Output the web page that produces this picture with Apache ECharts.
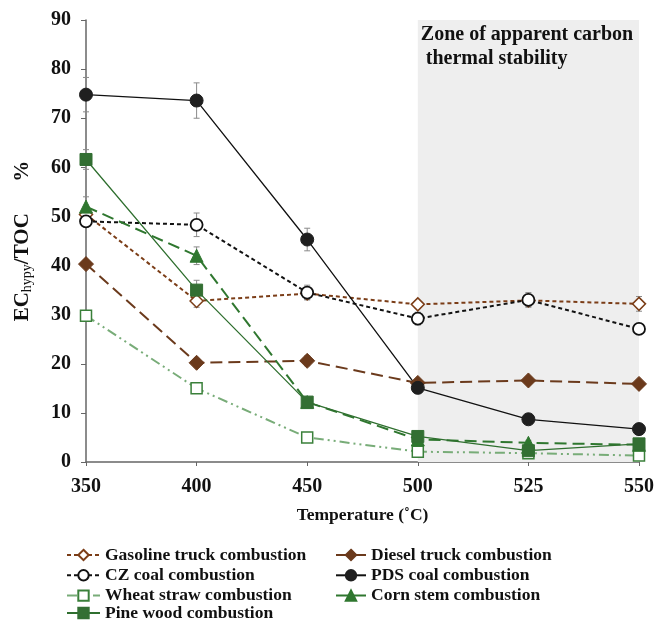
<!DOCTYPE html>
<html>
<head>
<meta charset="utf-8">
<script src="https://cdn.jsdelivr.net/npm/echarts@6/dist/echarts.min.js"></script>
<style>
  html, body { margin: 0; padding: 0; background: #fff; }
  #main { width: 657px; height: 622px; }
</style>
</head>
<body>
<div id="main"></div>
<script>
// temperatures (°C), spaced evenly like the original
var temps = ['350', '400', '450', '500', '525', '550'];

var gasoline = [50.4, 32.8, 34.3, 32.1, 32.9, 32.2];
var diesel   = [40.3, 20.2, 20.6, 16.1, 16.6, 15.9];
var czCoal   = [49.0, 48.3, 34.5, 29.2, 33.0, 27.1];
var pdsCoal  = [74.8, 73.6, 45.3, 15.1, 8.7, 6.7];
var wheat    = [29.8, 15.0, 5.0, 2.1, 1.8, 1.3];
var corn     = [52.0, 42.0, 12.2, 4.6, 3.9, 3.5];
var pine     = [61.6, 35.0, 12.2, 5.2, 2.3, 3.7];

// error bar half-widths
var gasolineErr = [1.0, 1.3, 1.2, 0.8, 1.2, 1.5];
var dieselErr   = [0.6, 0.8, 1.0, 0.5, 0.5, 0.5];
var czErr       = [1.0, 2.4, 1.5, 1.3, 1.5, 1.0];
var pdsErr      = [3.5, 3.6, 2.3, 0.5, 0.5, 0.4];
var wheatErr    = [0.6, 0.8, 0.5, 0.3, 0.3, 0.3];
var cornErr     = [2.0, 1.8, 0.8, 0.5, 0.5, 0.4];
var pineErr     = [2.0, 2.0, 0.8, 0.5, 0.4, 0.4];

var yTicks = [0, 10, 20, 30, 40, 50, 60, 70, 80, 90];

var FONT = '"Liberation Serif", "Times New Roman", serif';

var myChart = echarts.init(document.getElementById('main'));

// error bars drawn through the axes
function errSeries(vals, errs) {
    var data = [];
    vals.forEach(function (v, i) {
        if (errs[i] > 0) data.push([i, v - errs[i], v + errs[i]]);
    });
    return {
        type: 'custom',
        silent: true,
        z: 1,
        renderItem: function (params, api) {
            var lo = api.coord([api.value(0), api.value(1)]);
            var hi = api.coord([api.value(0), api.value(2)]);
            var w = 3;
            var st = { stroke: '#8a8a8a', lineWidth: 1 };
            return {
                type: 'group',
                children: [
                    { type: 'line', shape: { x1: lo[0], y1: lo[1], x2: hi[0], y2: hi[1] }, style: st },
                    { type: 'line', shape: { x1: lo[0] - w, y1: lo[1], x2: lo[0] + w, y2: lo[1] }, style: st },
                    { type: 'line', shape: { x1: hi[0] - w, y1: hi[1], x2: hi[0] + w, y2: hi[1] }, style: st }
                ]
            };
        },
        data: data
    };
}

function lineSeries(name, vals, opt) {
    return {
        name: name,
        type: 'line',
        z: 3,
        data: vals,
        symbol: opt.symbol,
        symbolSize: opt.size,
        showAllSymbol: true,
        lineStyle: { color: opt.line, width: opt.width, type: opt.dash },
        itemStyle: { color: opt.fill, borderColor: opt.border, borderWidth: opt.bw },
        emphasis: { disabled: true }
    };
}

var legendText = { fontFamily: FONT, fontWeight: 'bold', fontSize: 17.5, color: '#111', lineHeight: 17 };

function legendCol(left, top, width, names) {
    return {
        orient: 'vertical',
        left: left, top: top, padding: 0,
        itemWidth: width, itemHeight: 13, itemGap: 2.3,
        textStyle: legendText,
        data: names
    };
}

var option = {
    animation: false,
    backgroundColor: '#fff',
    grid: { left: 86, right: 17, top: 20, bottom: 160 },
    legend: [
        legendCol(66, 546, 33, ['Gasoline truck combustion', 'CZ coal combustion', 'Wheat straw combustion']),
        legendCol(66, 604, 33, ['Pine wood combustion']),
        legendCol(335, 546, 30, ['Diesel truck combustion', 'PDS coal combustion', 'Corn stem combustion'])
    ],
    xAxis: {
        type: 'category',
        data: temps,
        boundaryGap: false,
        name: 'Temperature (˚C)',
        nameLocation: 'middle',
        nameGap: 44,
        nameTextStyle: { fontFamily: FONT, fontWeight: 'bold', fontSize: 17.5, color: '#111' },
        axisLine: { lineStyle: { color: '#666', width: 1.5 } },
        axisTick: { show: true, length: 4, lineStyle: { color: '#666' } },
        axisLabel: { fontFamily: FONT, fontWeight: 'bold', fontSize: 20, color: '#111', margin: 15 },
        splitLine: { show: false }
    },
    yAxis: {
        type: 'value',
        min: yTicks[0],
        max: yTicks[yTicks.length - 1],
        interval: 10,
        name: '{a|EC}{b|hypy}{a|/TOC      %}',
        nameLocation: 'middle',
        nameRotate: 90,
        nameGap: 52,
        nameTextStyle: {
            rich: {
                a: { fontFamily: FONT, fontWeight: 'bold', fontSize: 21, color: '#111' },
                b: { fontFamily: FONT, fontSize: 14, color: '#111', verticalAlign: 'bottom', padding: [9, 0, 0, 0] }
            }
        },
        axisLine: { show: true, lineStyle: { color: '#666', width: 1.5 } },
        axisTick: { show: true, length: 5, lineStyle: { color: '#666' } },
        axisLabel: { fontFamily: FONT, fontWeight: 'bold', fontSize: 20, color: '#111', margin: 15 },
        splitLine: { show: false }
    },
    series: [
        {
            type: 'line',
            data: [],
            silent: true,
            z: 0,
            markArea: {
                silent: true,
                itemStyle: { color: '#eeeeee' },
                label: {
                    show: true,
                    position: 'insideTopLeft',
                    distance: 3,
                    formatter: 'Zone of apparent carbon\n thermal stability',
                    fontFamily: FONT, fontWeight: 'bold', fontSize: 20, color: '#111',
                    lineHeight: 24
                },
                data: [[{ xAxis: '500', yAxis: 90 }, { xAxis: '550', yAxis: 0 }]]
            }
        },
        errSeries(gasoline, gasolineErr),
        errSeries(diesel, dieselErr),
        errSeries(czCoal, czErr),
        errSeries(pdsCoal, pdsErr),
        errSeries(wheat, wheatErr),
        errSeries(corn, cornErr),
        errSeries(pine, pineErr),
        lineSeries('Gasoline truck combustion', gasoline, {
            symbol: 'diamond', size: 13, line: '#7b3d17', width: 2, dash: [4, 3],
            fill: '#ffffff', border: '#7b3d17', bw: 1.5
        }),
        lineSeries('Diesel truck combustion', diesel, {
            symbol: 'diamond', size: 15, line: '#6b3a1c', width: 2, dash: [12, 6],
            fill: '#6b3a1c', border: '#6b3a1c', bw: 1
        }),
        lineSeries('CZ coal combustion', czCoal, {
            symbol: 'circle', size: 12, line: '#111111', width: 2, dash: [4, 3],
            fill: '#ffffff', border: '#111111', bw: 1.8
        }),
        lineSeries('PDS coal combustion', pdsCoal, {
            symbol: 'circle', size: 13, line: '#111111', width: 1.3, dash: 'solid',
            fill: '#1f1f1f', border: '#1f1f1f', bw: 1
        }),
        lineSeries('Wheat straw combustion', wheat, {
            symbol: 'rect', size: 11, line: '#78ac78', width: 2, dash: [10, 4, 2, 4, 2, 4],
            fill: '#ffffff', border: '#3a803a', bw: 1.5
        }),
        lineSeries('Corn stem combustion', corn, {
            symbol: 'triangle', size: 13, line: '#2f772f', width: 2, dash: [12, 6],
            fill: '#2f772f', border: '#2f772f', bw: 1
        }),
        lineSeries('Pine wood combustion', pine, {
            symbol: 'rect', size: 12, line: '#2f6f2f', width: 1.3, dash: 'solid',
            fill: '#336f33', border: '#336f33', bw: 1
        })
    ]
};

myChart.setOption(option);
window.onresize = myChart.resize;
</script>
</body>
</html>
